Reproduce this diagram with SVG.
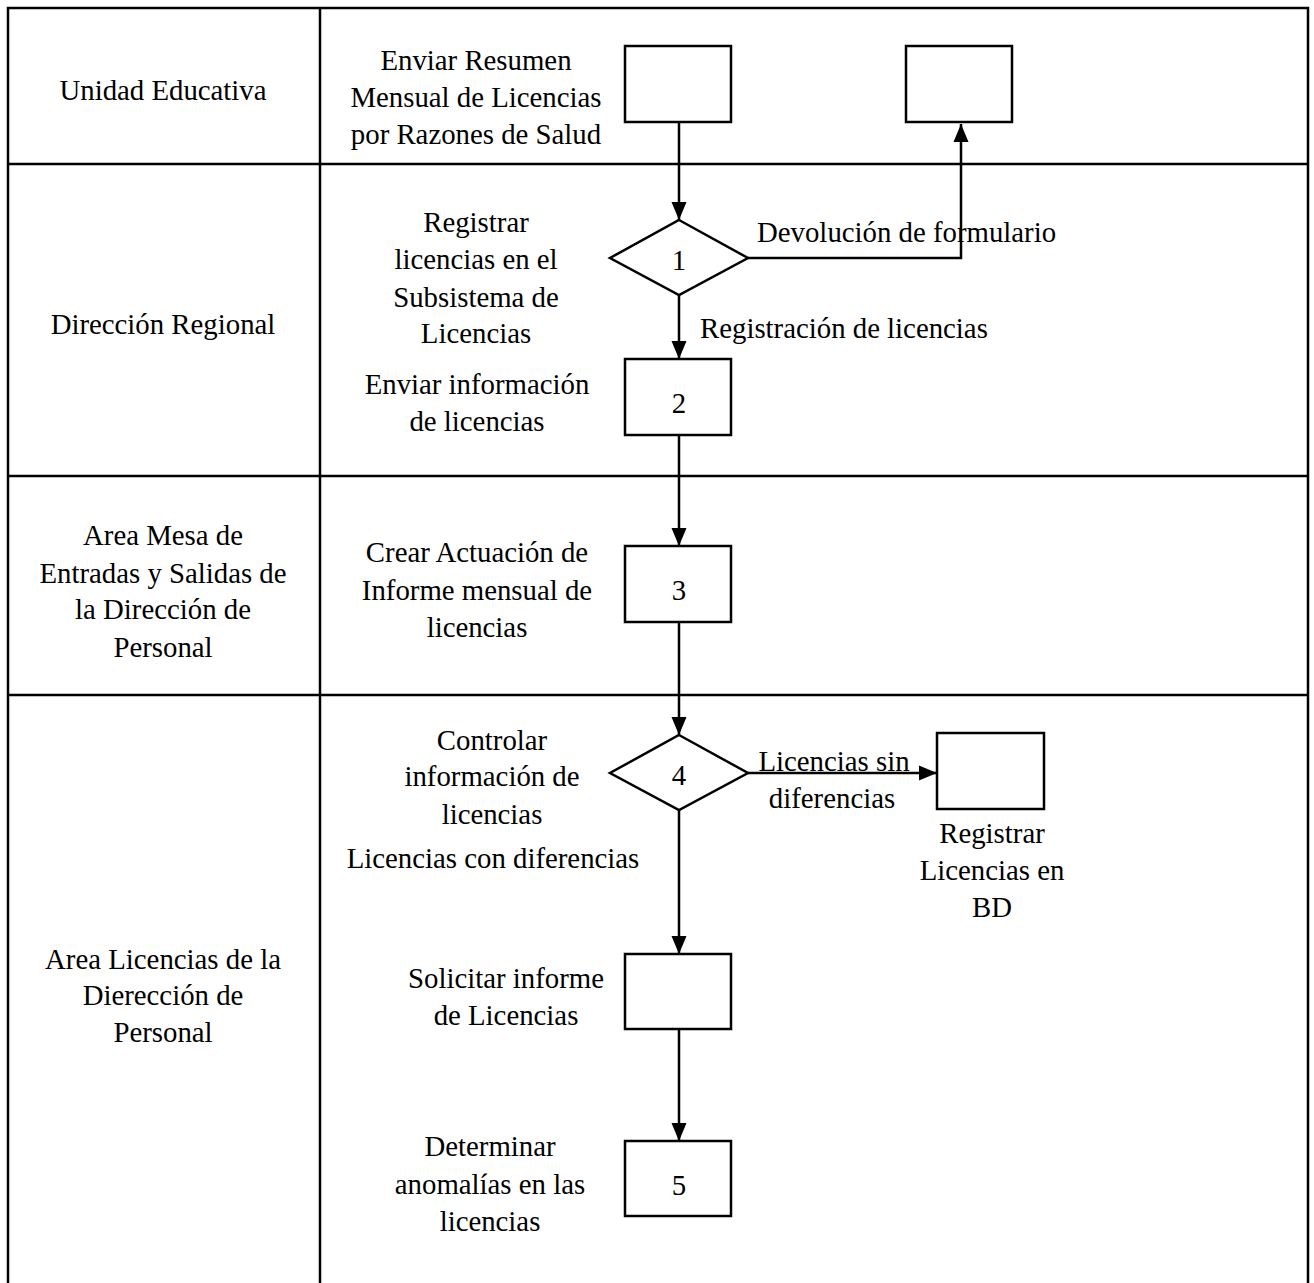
<svg xmlns="http://www.w3.org/2000/svg" width="1314" height="1283" viewBox="0 0 1314 1283" font-family="Liberation Serif, Times New Roman, serif" font-size="28.8">
<style>
text{font-family:'Liberation Serif','Times New Roman',serif;font-size:28.8px;fill:#000}
.c{text-anchor:middle}
.ln{stroke:#000;stroke-width:2.5;fill:none}
.sh{stroke:#000;stroke-width:2.5;fill:#fff}
.cn{stroke:#000;stroke-width:2.5;fill:none;marker-end:url(#ah)}
</style>
<defs>
<marker id="ah" viewBox="0 0 18 16" refX="18" refY="8" markerWidth="18" markerHeight="16" markerUnits="userSpaceOnUse" orient="auto">
<path d="M0,0.5 L18,8 L0,15.5 Z" fill="#000"/>
</marker>
</defs>
<rect width="1314" height="1283" fill="#fff"/>
<g id="lanes">
<path class="ln" d="M8,1283 V8 H1308 V1283"/>
<line class="ln" x1="320" y1="8" x2="320" y2="1283"/>
<line class="ln" x1="8" y1="164" x2="1308" y2="164"/>
<line class="ln" x1="8" y1="476" x2="1308" y2="476"/>
<line class="ln" x1="8" y1="695" x2="1308" y2="695"/>
<text class="c" x="163" y="100">Unidad Educativa</text>
<text class="c" x="163" y="334">Dirección Regional</text>
<text class="c" x="163" y="545">Area Mesa de</text>
<text class="c" x="163" y="583">Entradas y Salidas de</text>
<text class="c" x="163" y="619">la Dirección de</text>
<text class="c" x="163" y="657">Personal</text>
<text class="c" x="163" y="969">Area Licencias de la</text>
<text class="c" x="163" y="1005">Dierección de</text>
<text class="c" x="163" y="1042">Personal</text>
</g>
<g id="connectors">
<line class="cn" x1="679" y1="122" x2="679" y2="220"/>
<polyline class="cn" points="748,258 961,258 961,124"/>
<line class="cn" x1="679" y1="295" x2="679" y2="359"/>
<line class="cn" x1="679" y1="435" x2="679" y2="546"/>
<line class="cn" x1="679" y1="622" x2="679" y2="735"/>
<line class="cn" x1="748" y1="773" x2="937" y2="773"/>
<line class="cn" x1="679" y1="810" x2="679" y2="954"/>
<line class="cn" x1="679" y1="1029" x2="679" y2="1141"/>
<text x="757" y="242">Devolución de formulario</text>
<text x="700" y="338">Registración de licencias</text>
<text class="c" x="834" y="771">Licencias sin</text>
<text class="c" x="832" y="808">diferencias</text>
<text class="c" x="493" y="868">Licencias con diferencias</text>
</g>
<g id="n-enviar-resumen">
<rect class="sh" x="625" y="46" width="106" height="76"/>
<text class="c" x="476" y="70">Enviar Resumen</text>
<text class="c" x="476" y="107">Mensual de Licencias</text>
<text class="c" x="476" y="144">por Razones de Salud</text>
</g>
<g id="n-devolucion">
<rect class="sh" x="906" y="46" width="106" height="76"/>
</g>
<g id="n1">
<polygon class="sh" points="679,220 748,258 679,295 610,258"/>
<text class="c" x="679" y="270">1</text>
<text class="c" x="476" y="232">Registrar</text>
<text class="c" x="476" y="269">licencias en el</text>
<text class="c" x="476" y="307">Subsistema de</text>
<text class="c" x="476" y="343">Licencias</text>
</g>
<g id="n2">
<rect class="sh" x="625" y="359" width="106" height="76"/>
<text class="c" x="679" y="413">2</text>
<text class="c" x="477" y="394">Enviar información</text>
<text class="c" x="477" y="431">de licencias</text>
</g>
<g id="n3">
<rect class="sh" x="625" y="546" width="106" height="76"/>
<text class="c" x="679" y="600">3</text>
<text class="c" x="477" y="562">Crear Actuación de</text>
<text class="c" x="477" y="600">Informe mensual de</text>
<text class="c" x="477" y="637">licencias</text>
</g>
<g id="n4">
<polygon class="sh" points="679,735 748,773 679,810 610,773"/>
<text class="c" x="679" y="785">4</text>
<text class="c" x="492" y="750">Controlar</text>
<text class="c" x="492" y="786">información de</text>
<text class="c" x="492" y="824">licencias</text>
</g>
<g id="n-registrar-bd">
<rect class="sh" x="937" y="733" width="107" height="76"/>
<text class="c" x="992" y="843">Registrar</text>
<text class="c" x="992" y="880">Licencias en</text>
<text class="c" x="992" y="917">BD</text>
</g>
<g id="n-solicitar">
<rect class="sh" x="625" y="954" width="106" height="75"/>
<text class="c" x="506" y="988">Solicitar informe</text>
<text class="c" x="506" y="1025">de Licencias</text>
</g>
<g id="n5">
<rect class="sh" x="625" y="1141" width="106" height="75"/>
<text class="c" x="679" y="1195">5</text>
<text class="c" x="490" y="1156">Determinar</text>
<text class="c" x="490" y="1194">anomalías en las</text>
<text class="c" x="490" y="1231">licencias</text>
</g>
</svg>
